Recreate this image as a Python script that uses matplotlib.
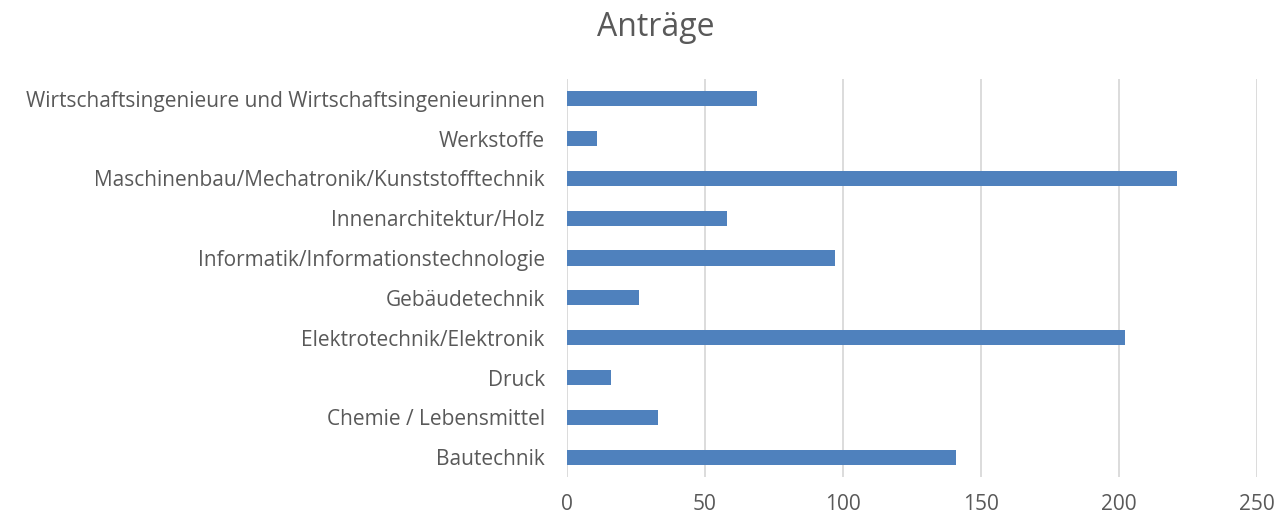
import matplotlib
matplotlib.use("Agg")
import matplotlib.pyplot as plt

# Daten (von unten nach oben)
categories = ["Bautechnik", "Chemie / Lebensmittel", "Druck",
              "Elektrotechnik/Elektronik", "Gebäudetechnik",
              "Informatik/Informationstechnologie", "Innenarchitektur/Holz",
              "Maschinenbau/Mechatronik/Kunststofftechnik", "Werkstoffe",
              "Wirtschaftsingenieure und Wirtschaftsingenieurinnen"]
antraege = [141, 33, 16, 202, 26, 97, 58, 221, 11, 69]
xticks = [0, 50, 100, 150, 200, 250]

plt.rcParams['font.family'] = ['Open Sans', 'DejaVu Sans']
grey = '#595959'

fig = plt.figure(figsize=(12.78, 5.22), dpi=100)
ax = fig.add_axes([0.4437, 0.086, 0.5399, 0.763])

ax.barh(range(len(categories)), antraege, height=0.38, color='#4F81BD', zorder=3)
ax.set_xlim(0, 250)
ax.set_ylim(-0.5, len(categories) - 0.5)
ax.set_xticks(xticks)
ax.set_yticks(range(len(categories)))
ax.set_yticklabels(categories)
ax.grid(axis='x', color='#D9D9D9', linewidth=1.3, zorder=0)
for s in ax.spines.values():
    s.set_visible(False)
ax.tick_params(axis='both', length=0, colors=grey)
ax.tick_params(axis='x', pad=12, labelsize=15)
ax.tick_params(axis='y', pad=16, labelsize=15)

fig.text(0.513, 0.948, "Anträge", ha='center', va='center', fontsize=23, color=grey)

fig.savefig("out.png", dpi=100)
